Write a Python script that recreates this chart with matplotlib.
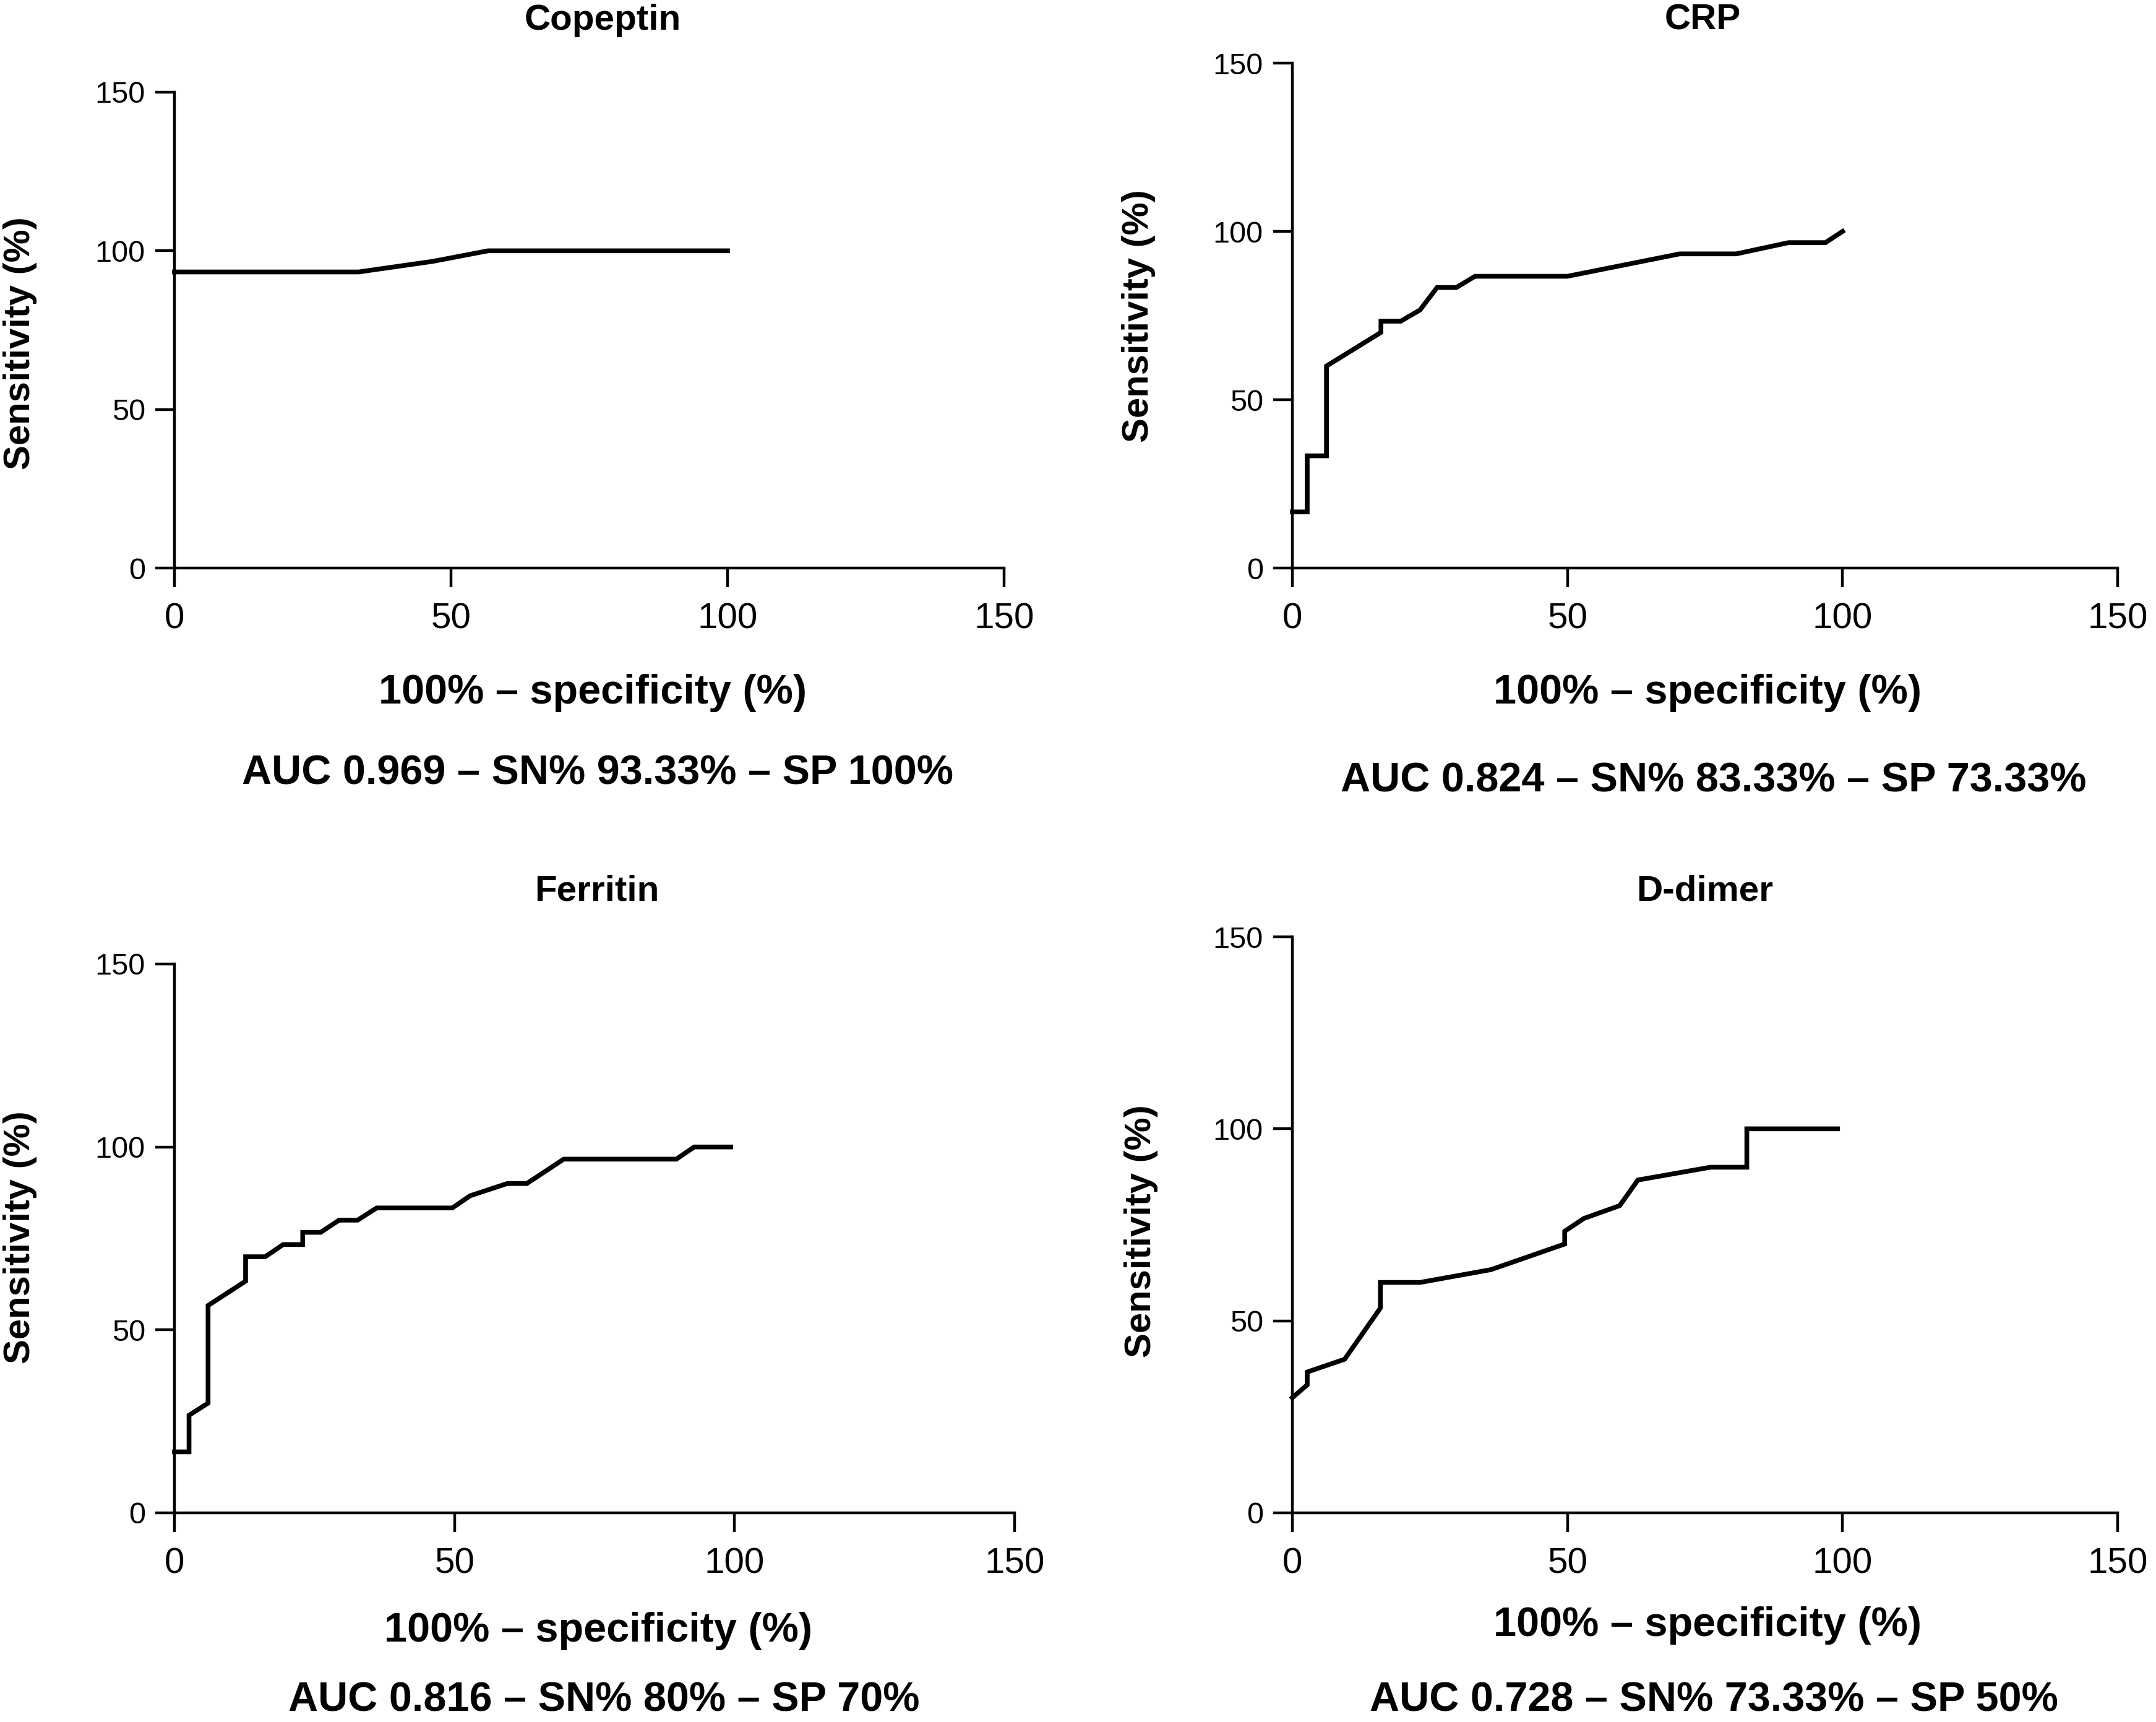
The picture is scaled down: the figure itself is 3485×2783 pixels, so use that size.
import numpy as np
import matplotlib
matplotlib.use("Agg")
import matplotlib.pyplot as plt

plt.rcParams['font.family'] = ['Liberation Sans', 'DejaVu Sans']

# ROC curves: 100% - specificity (x) vs sensitivity (y)
copeptin_x = [0, 33.3, 46.7, 56.7, 100]
copeptin_y = [93.33, 93.33, 96.67, 100, 100]

crp_x = [0, 2.7, 2.7, 6.2, 6.2, 16.1, 16.1, 19.7, 23.2, 26.3, 29.8, 33.2, 50.0,
         70.4, 80.7, 90.2, 96.9, 100]
crp_y = [16.67, 16.67, 33.33, 33.33, 60.0, 70.0, 73.33, 73.33, 76.67, 83.33,
         83.33, 86.67, 86.67, 93.33, 93.33, 96.67, 96.67, 100]

ferritin_x = [0, 2.6, 2.6, 6.0, 6.0, 12.7, 12.7, 16.2, 19.4, 22.9, 22.9, 26.1,
              29.4, 32.7, 36.1, 49.6, 52.8, 59.4, 62.9, 69.5, 89.6, 92.8, 99.3]
ferritin_y = [16.67, 16.67, 26.67, 30.0, 56.67, 63.33, 70.0, 70.0, 73.33, 73.33,
              76.67, 76.67, 80.0, 80.0, 83.33, 83.33, 86.67, 90.0, 90.0, 96.67,
              96.67, 100, 100]

ddimer_x = [0, 2.7, 2.7, 9.5, 16.0, 16.0, 23.2, 36.1, 49.5, 49.5, 53.0, 59.5,
            62.8, 76.0, 82.6, 82.6, 99.1]
ddimer_y = [30.0, 33.33, 36.67, 40.0, 53.33, 60.0, 60.0, 63.33, 70.0, 73.33,
            76.67, 80.0, 86.67, 90.0, 90.0, 100, 100]

titles = ["Copeptin", "CRP", "Ferritin", "D-dimer"]
auc_texts = ["AUC 0.969 – SN% 93.33% – SP 100%",
             "AUC 0.824 – SN% 83.33% – SP 73.33%",
             "AUC 0.816 – SN% 80% – SP 70%",
             "AUC 0.728 – SN% 73.33% – SP 50%"]
ticks = [0, 50, 100, 150]

W, H = 3485, 2783
DPI = 100


def fx(px):
    return px / W


def fy(py):
    return 1 - py / H


# axes boxes in pixels: left, right, bottom, top
boxes = [(282, 1623, 918, 149),
         (2089, 3423, 918, 102),
         (282, 1640, 2445, 1558),
         (2089, 3423, 2445, 1514)]
# text anchor positions in pixels
title_pos = [(974, 33), (2752, 33), (965, 1440), (2756, 1440)]
ylabel_pos = [(33, 555), (1840, 511), (33, 2000), (1845, 1990)]
xlabel_pos = [(958, 1120), (2760, 1120), (967, 2636), (2760, 2627)]
auc_pos = [(966, 1251), (2770, 1262), (976, 2749), (2770, 2749)]

curves = [(copeptin_x, copeptin_y), (crp_x, crp_y),
          (ferritin_x, ferritin_y), (ddimer_x, ddimer_y)]

fig = plt.figure(figsize=(W / DPI, H / DPI), dpi=DPI)

for i, (l, r, b, t) in enumerate(boxes):
    ax = fig.add_axes([fx(l), fy(b), (r - l) / W, (b - t) / H])
    x, y = curves[i]
    ax.plot(x, y, color='black', lw=5.5, solid_joinstyle='miter', clip_on=False)
    ax.set_xlim(0, 150)
    ax.set_ylim(0, 150)
    ax.set_xticks(ticks)
    ax.set_yticks(ticks)
    ax.spines['top'].set_visible(False)
    ax.spines['right'].set_visible(False)
    for s in ('left', 'bottom'):
        ax.spines[s].set_linewidth(3.2)
    ax.tick_params(axis='both', direction='out', length=22, width=3.2)
    ax.tick_params(axis='x', labelsize=42, pad=18)
    ax.tick_params(axis='y', labelsize=35, pad=12)

    fig.text(fx(title_pos[i][0]), fy(title_pos[i][1]), titles[i],
             ha='center', va='center', fontsize=42, fontweight='bold')
    fig.text(fx(ylabel_pos[i][0]), fy(ylabel_pos[i][1]), "Sensitivity (%)",
             ha='center', va='center', rotation=90, fontsize=43,
             fontweight='bold')
    fig.text(fx(xlabel_pos[i][0]), fy(xlabel_pos[i][1]),
             "100% – specificity (%)", ha='center', va='center',
             fontsize=48, fontweight='bold')
    fig.text(fx(auc_pos[i][0]), fy(auc_pos[i][1]), auc_texts[i],
             ha='center', va='center', fontsize=48, fontweight='bold')

fig.savefig("out.png", dpi=DPI)
